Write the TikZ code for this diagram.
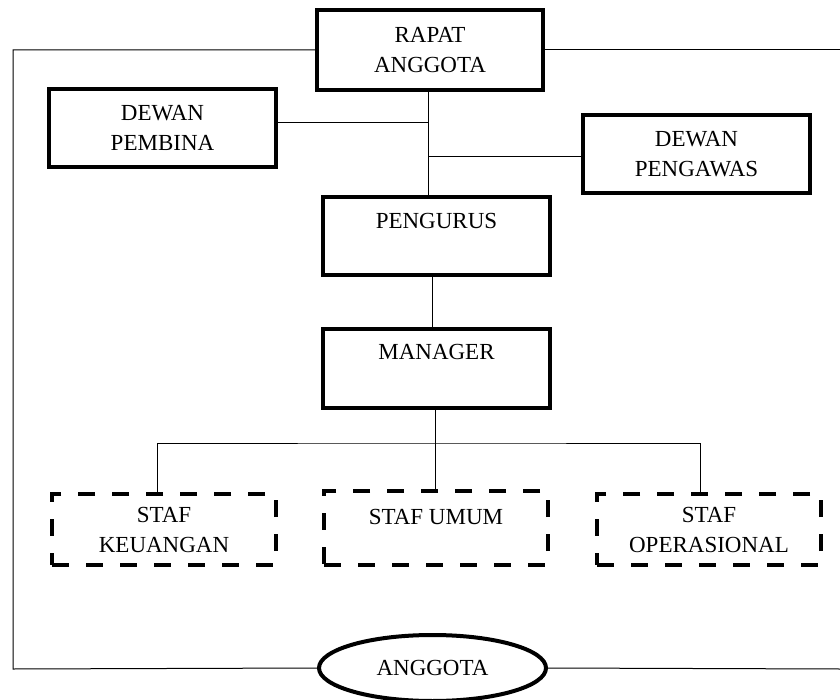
\documentclass[tikz,border=0pt]{standalone}
\usepackage{fontspec}
\setmainfont{Liberation Serif}
\usetikzlibrary{shapes.geometric,calc}
\begin{document}
\begin{tikzpicture}[x=1pt,y=-1pt,
  every node/.style={font=\fontsize{23}{30}\selectfont, align=center, inner sep=0pt},
  solidbox/.style={draw, line width=4pt, rectangle},
  dashbox/.style={draw, line width=4pt, rectangle, dash pattern=on 17pt off 17pt},
  oval/.style={draw, line width=4pt, ellipse},
  link/.style={line width=1pt}]
\useasboundingbox (0,0) rectangle (840,700);
\node[solidbox, minimum width=226pt, minimum height=80pt] (rapat) at (430,50) {RAPAT\\ANGGOTA};
\node[solidbox, minimum width=227pt, minimum height=78pt] (pembina) at (162.5,128) {DEWAN\\PEMBINA};
\node[solidbox, minimum width=227pt, minimum height=78pt] (pengawas) at (696.5,154) {DEWAN\\PENGAWAS};
\node[solidbox, minimum width=227pt, minimum height=78pt] (pengurus) at (436.5,236) {PENGURUS\\~};
\node[solidbox, minimum width=227pt, minimum height=79pt] (manager) at (436.5,368.5) {MANAGER\\[4pt]~};
\node[dashbox, minimum width=224pt, minimum height=71pt] (keuangan) at (164,529.5) {STAF\\KEUANGAN};
\node[dashbox, minimum width=224pt, minimum height=74pt] (umum) at (436,528) {STAF UMUM\\[-8pt]~};
\node[dashbox, minimum width=224pt, minimum height=71pt] (operasional) at (709,529.5) {STAF\\OPERASIONAL};
\node[oval, minimum width=227pt, minimum height=66pt] (anggota) at (432.5,668) {ANGGOTA};
\coordinate (tl) at (13,50);
\coordinate (bl) at (13,669);
\coordinate (tr) at (840,50);
\coordinate (br) at (840,669);
\coordinate (trunk) at (428,50);
\coordinate (bus) at (435,443);
\coordinate (pbend) at ($(pembina.east)+(0,-5)$);
\coordinate (pwend) at ($(pengawas.west)+(0,3)$);
% frame
\draw[link] (rapat.west) -- (tl) -- (bl) -- (anggota.west);
\draw[link] (rapat.east) -- (tr);
\draw[link] (anggota.east) -- (br);
% top structure
\draw[link] (rapat.south -| trunk) -- (pengurus.north -| trunk);
\draw[link] (pbend) -- (pbend -| trunk);
\draw[link] (pwend) -- (pwend -| trunk);
\draw[link] ($(pengurus.south)+(-4,0)$) -- ($(manager.north)+(-4,0)$);
% staff bus
\draw[link] (manager.south -| bus) -- (umum.north -| bus);
\draw[link] ($(keuangan.north)+(-7,0)$) |- (bus) -| ($(operasional.north)+(-9,0)$);
\end{tikzpicture}
\end{document}
